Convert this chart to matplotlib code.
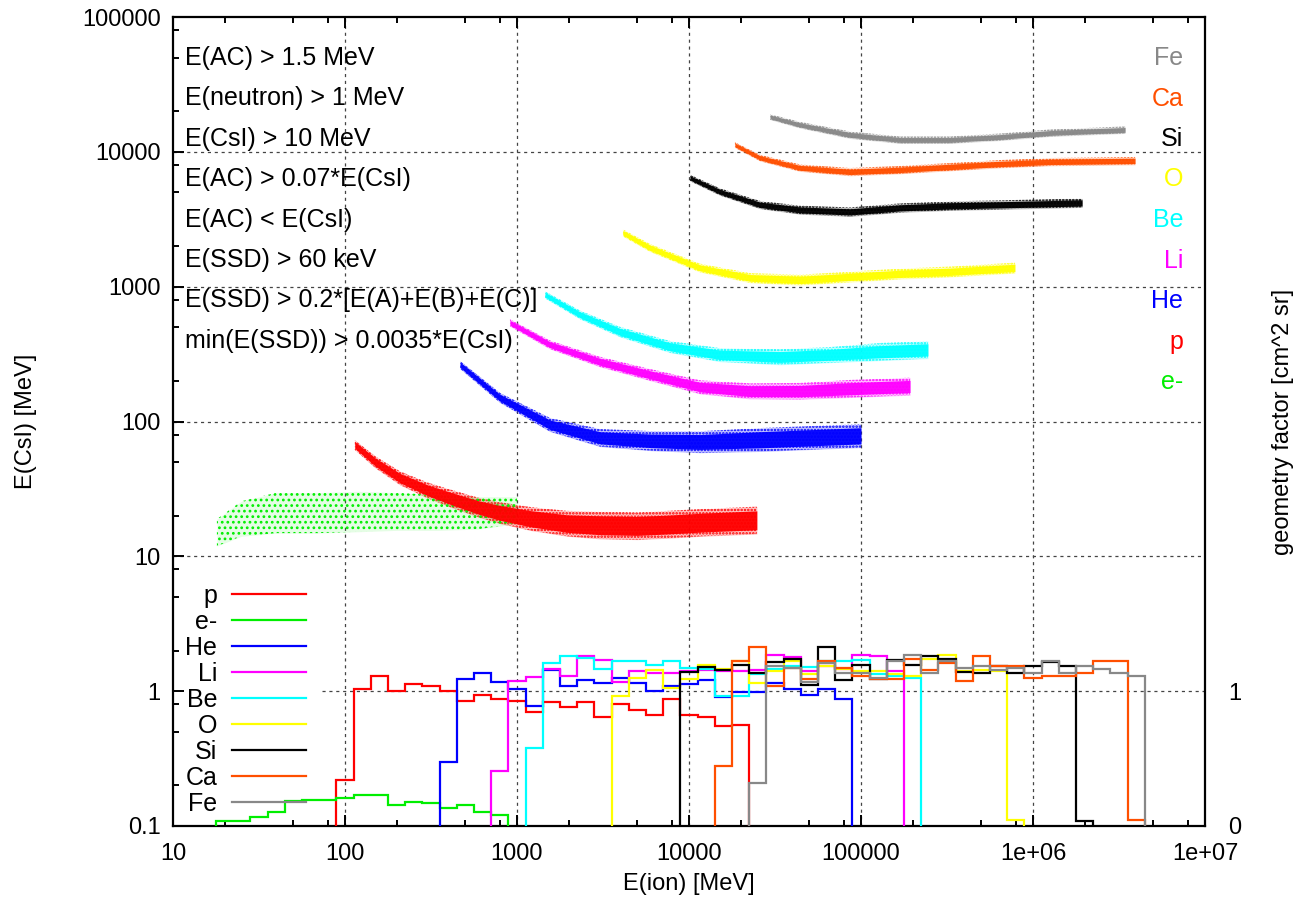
import numpy as np
import matplotlib
matplotlib.use("Agg")
import matplotlib.pyplot as plt
from matplotlib.ticker import FixedLocator, FixedFormatter, NullFormatter
from matplotlib.lines import Line2D

plt.rcParams['font.family'] = ['Liberation Sans', 'DejaVu Sans']
plt.rcParams['hatch.linewidth'] = 1.2

# ---------------- data ----------------
species = ['p', 'e-', 'He', 'Li', 'Be', 'O', 'Si', 'Ca', 'Fe']
colors = ['#ff0000', '#00ee00', '#0000ff', '#ff00ff', '#00ffff',
          '#ffff00', '#000000', '#ff4f00', '#888888']

# geometry-factor histograms: log10(E) of first bin centre (bins 0.1 dex wide) and values
hist_first = [2.0, 1.3, 2.6, 2.9, 3.1, 3.6, 4.0, 4.2, 4.4]
p_hist = [0.22, 1.04, 1.29, 1.01, 1.13, 1.09, 1.0, 0.84, 0.94, 0.875, 0.84, 0.70,
          0.83, 0.76, 0.83, 0.64, 0.81, 0.73, 0.67, 0.875, 0.67, 0.64, 0.55, 0.56]
e_hist = [0.108, 0.108, 0.116, 0.128, 0.152, 0.157, 0.157, 0.16, 0.169, 0.169,
          0.144, 0.151, 0.147, 0.135, 0.144, 0.127, 0.121]
he_hist = [0.297, 1.23, 1.36, 1.16, 1.04, 0.78, 1.44, 1.09, 1.22, 1.15, 1.25, 1.15,
           1.0, 1.10, 1.13, 1.22, 0.906, 0.98, 0.98, 1.15, 1.03, 0.94, 1.03, 0.87]
li_hist = [0.257, 1.18, 1.27, 1.46, 1.29, 1.81, 1.71, 1.16, 1.40, 1.36, 1.36, 1.40,
           1.44, 1.40, 1.40, 1.44, 1.87, 1.80, 1.40, 1.55, 1.46, 1.87, 1.81, 1.40]
be_hist = [0.38, 1.62, 1.81, 1.77, 1.46, 1.66, 1.66, 1.57, 1.66, 1.49, 1.46, 0.915,
           0.915, 1.33, 1.45, 1.55, 1.52, 1.66, 1.66, 1.71, 1.33, 1.29, 1.25]
o_hist = [0.915, 1.25, 1.44, 1.06, 1.24, 1.57, 1.47, 1.66, 1.15, 1.40, 1.66, 1.33,
          1.55, 1.46, 1.40, 1.40, 1.33, 1.29, 1.73, 1.87, 1.42, 1.44, 1.42, 0.11]
si_hist = [1.39, 1.51, 1.44, 1.57, 1.36, 1.64, 1.73, 1.12, 2.13, 1.22, 1.57, 1.23,
           1.71, 1.57, 1.81, 1.73, 1.38, 1.36, 1.53, 1.36, 1.53, 1.64, 1.53, 0.108]
ca_hist = [0.277, 1.66, 2.13, 1.09, 1.49, 1.23, 1.66, 1.49, 1.29, 1.23, 1.23, 1.73,
           1.43, 1.62, 1.18, 1.81, 1.53, 1.53, 1.25, 1.29, 1.29, 1.36, 1.66, 1.66, 0.111]
fe_hist = [0.209, 1.55, 1.49, 1.16, 1.62, 1.36, 1.36, 1.25, 1.66, 1.87, 1.36, 1.66,
           1.49, 1.55, 1.44, 1.49, 1.36, 1.66, 1.36, 1.55, 1.46, 1.36, 1.30]
hists = [p_hist, e_hist, he_hist, li_hist, be_hist, o_hist, si_hist, ca_hist, fe_hist]

# E(CsI) vs E(ion) scatter bands: ion energy [MeV], centre E(CsI) [MeV], half spread [dex]
p_E = [114, 150, 209, 300, 407, 600, 796, 1200, 1955, 3040, 5000, 7450, 12000, 24800]
p_C = [67, 50, 38, 31, 27, 23, 21, 19, 17.5, 17, 16.8, 17.2, 17.8, 18.5]
p_S = [0.025, 0.03, 0.035, 0.04, 0.045, 0.05, 0.055, 0.06, 0.065, 0.07, 0.07, 0.07, 0.07, 0.07]

he_E = [467, 796, 1556, 3040, 5936, 11590, 25900, 100000]
he_C = [263, 150, 94.6, 75.7, 71.9, 70.5, 73.2, 78.3]
he_S = [0.02, 0.025, 0.035, 0.045, 0.05, 0.055, 0.06, 0.06]

li_E = [910, 1556, 3040, 5936, 11590, 22630, 44200, 86300, 192800]
li_C = [540, 371, 277, 222, 180, 168, 168, 175, 182]
li_S = [0.018, 0.022, 0.026, 0.03, 0.035, 0.04, 0.042, 0.045, 0.045]

be_E = [1455, 2323, 3970, 7760, 15150, 33800, 66000, 128900, 245000]
be_C = [871, 619, 462, 358, 312, 301, 312, 329, 340]
be_S = [0.018, 0.022, 0.026, 0.03, 0.035, 0.04, 0.04, 0.045, 0.045]

o_E = [4130, 5936, 11590, 22630, 44200, 86300, 168500, 329000, 785000]
o_C = [2506, 1941, 1378, 1161, 1122, 1182, 1245, 1289, 1378]
o_S = [0.018, 0.02, 0.022, 0.025, 0.027, 0.027, 0.027, 0.027, 0.027]

si_E = [10140, 15150, 25900, 44200, 86300, 168500, 329000, 643000, 1930000]
si_C = [6410, 5050, 4044, 3710, 3585, 3840, 3975, 4044, 4180]
si_S = [0.016, 0.018, 0.02, 0.022, 0.023, 0.023, 0.023, 0.023, 0.023]

ca_E = [18490, 25900, 44200, 86300, 168500, 329000, 643000, 1256000, 3920000]
ca_C = [11250, 9010, 7600, 7100, 7350, 7730, 8130, 8420, 8570]
ca_S = [0.014, 0.016, 0.018, 0.02, 0.02, 0.02, 0.02, 0.02, 0.02]

fe_E = [29600, 44200, 86300, 168500, 329000, 643000, 1256000, 3430000]
fe_C = [18150, 15830, 13340, 12250, 12250, 12880, 13800, 14540]
fe_S = [0.014, 0.016, 0.018, 0.018, 0.018, 0.018, 0.018, 0.018]

e_E = [18, 25, 40, 70, 120, 200, 350, 600, 1000]
e_C = [15, 19, 21, 21, 21.5, 21.5, 21, 21, 22]
e_S = [0.10, 0.13, 0.15, 0.15, 0.15, 0.14, 0.13, 0.12, 0.10]

bands = {'p': (p_E, p_C, p_S), 'He': (he_E, he_C, he_S), 'Li': (li_E, li_C, li_S),
         'Be': (be_E, be_C, be_S), 'O': (o_E, o_C, o_S), 'Si': (si_E, si_C, si_S),
         'Ca': (ca_E, ca_C, ca_S), 'Fe': (fe_E, fe_C, fe_S)}

cuts = ['E(AC) > 1.5 MeV', 'E(neutron) > 1 MeV', 'E(CsI) > 10 MeV',
        'E(AC) > 0.07*E(CsI)', 'E(AC) < E(CsI)', 'E(SSD) > 60 keV',
        'E(SSD) > 0.2*[E(A)+E(B)+E(C)]', 'min(E(SSD)) > 0.0035*E(CsI)']
right_order = ['Fe', 'Ca', 'Si', 'O', 'Be', 'Li', 'He', 'p', 'e-']

xticks = [10, 100, 1000, 10000, 100000, 1e6, 1e7]
xticklabels = ['10', '100', '1000', '10000', '100000', '1e+06', '1e+07']
yticks = [0.1, 1, 10, 100, 1000, 10000, 100000]
yticklabels = ['0.1', '1', '10', '100', '1000', '10000', '100000']

# ---------------- figure ----------------
W, H = 1293, 899
fig = plt.figure(figsize=(W / 100, H / 100), dpi=100)
ax = fig.add_axes([173 / W, 1 - 826 / H, (1205 - 173) / W, (826 - 17) / H])
ax.set_xscale('log')
ax.set_yscale('log')
ax.set_xlim(10, 1e7)
ax.set_ylim(0.1, 1e5)

FS = 17
FT = 18
gridkw = dict(color='#444444', lw=0.9, dashes=(2.5, 3), zorder=1)
for xv in xticks[1:-1]:
    ax.axvline(xv, **gridkw)
for yv in yticks[2:-1]:
    ax.axhline(yv, **gridkw)
ax.plot([73.5, 1e7], [1, 1], **gridkw)

# scatter bands
cmap = dict(zip(species, colors))
for name, (E, C, S) in bands.items():
    E = np.asarray(E, float); C = np.asarray(C, float); S = np.asarray(S, float)
    col = cmap[name]
    ax.fill_between(E, C * 10 ** (-1.45 * S), C * 10 ** (1.45 * S), facecolor='none',
                    edgecolor=col, hatch='.....', lw=0, zorder=2)
    ax.fill_between(E, C * 10 ** (-1.45 * S), C * 10 ** (1.45 * S), color=col,
                    alpha=0.25, lw=0, zorder=2)
    ax.fill_between(E, C * 10 ** (-S), C * 10 ** S, color=col, alpha=0.95, lw=0, zorder=3)

E = np.asarray(e_E, float); C = np.asarray(e_C, float); S = np.asarray(e_S, float)
ax.fill_between(E, C * 10 ** (-S), C * 10 ** S, facecolor='none', edgecolor=cmap['e-'],
                hatch='...', lw=0, zorder=2)
ax.fill_between(E, C * 10 ** (-S), C * 10 ** S, color=cmap['e-'], alpha=0.10, lw=0, zorder=2)

# histograms
handles = []
for name, col, first, vals in zip(species, colors, hist_first, hists):
    n = len(vals)
    edges = 10 ** (first - 0.05 + 0.1 * np.arange(n + 1))
    ax.stairs(vals, edges, baseline=1e-3, color=col, lw=1.6, zorder=5)
    handles.append(Line2D([], [], color=col, lw=1.6))

leg = ax.legend(handles, species, loc='upper left', bbox_to_anchor=(0.012, 0.299),
                frameon=False, markerfirst=False, fontsize=FT, handlelength=2.95,
                handletextpad=0.6, labelspacing=0.08, borderpad=0, borderaxespad=0)

# cut annotations
for i, t in enumerate(cuts):
    ax.text(0.0116, (826 - (58 + 40.4 * i)) / 809, t, transform=ax.transAxes,
            fontsize=FT, ha='left', va='center', zorder=6)
for i, name in enumerate(right_order):
    ax.text(0.979, (826 - (58 + 40.5 * i)) / 809, name, transform=ax.transAxes,
            fontsize=FT, ha='right', va='center', color=cmap[name], zorder=6)

# ticks
minor_x = [m * 10.0 ** k for k in range(1, 7) for m in (2, 5, 8)]
minor_y = [m * 10.0 ** k for k in range(-1, 5) for m in (2, 5, 8)]
ax.xaxis.set_major_locator(FixedLocator(xticks))
ax.xaxis.set_major_formatter(FixedFormatter(xticklabels))
ax.xaxis.set_minor_locator(FixedLocator(minor_x))
ax.xaxis.set_minor_formatter(NullFormatter())
ax.yaxis.set_major_locator(FixedLocator(yticks))
ax.yaxis.set_major_formatter(FixedFormatter(yticklabels))
ax.yaxis.set_minor_locator(FixedLocator(minor_y))
ax.yaxis.set_minor_formatter(NullFormatter())
ax.tick_params(which='both', direction='in', top=True, right=True, width=1.4,
               labelsize=FS)
ax.tick_params(which='major', length=8)
ax.tick_params(which='minor', length=4)
ax.tick_params(axis='x', which='major', pad=12)
ax.tick_params(axis='y', which='major', pad=9)
for s in ax.spines.values():
    s.set_linewidth(1.6)

ax2 = ax.twinx()
ax2.set_yscale('log')
ax2.set_ylim(0.1, 1e5)
ax2.yaxis.set_major_locator(FixedLocator([0.1, 1]))
ax2.yaxis.set_major_formatter(FixedFormatter(['0', '1']))
ax2.yaxis.set_minor_locator(FixedLocator([]))
ax2.tick_params(axis='y', length=0, pad=17, labelsize=FS)
for s in ax2.spines.values():
    s.set_visible(False)

ax.set_xlabel('E(ion) [MeV]', fontsize=FS, labelpad=6)
ax.set_ylabel('E(CsI) [MeV]', fontsize=FS, labelpad=32)
ax2.set_ylabel('geometry factor [cm^2 sr]', fontsize=FS, labelpad=22)

fig.savefig('out.png', dpi=100)
